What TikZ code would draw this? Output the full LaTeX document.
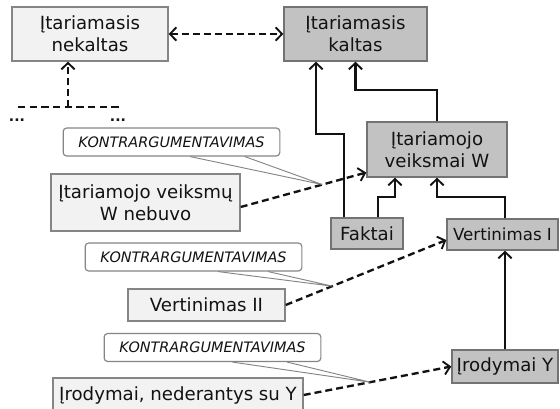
\documentclass[tikz,border=0pt]{standalone}
\usepackage{fontspec}
\setmainfont{DejaVu Sans}
\usetikzlibrary{arrows.meta,positioning,calc}
\definecolor{boxlight}{HTML}{F2F2F2}
\definecolor{boxdark}{HTML}{C2C2C2}
\definecolor{boxline}{HTML}{858585}
\definecolor{ink}{HTML}{121212}

\begin{document}
\begin{tikzpicture}[
  x=0.3mm,y=-0.3mm,
  >={Straight Barb[length=1.9mm,width=4mm,line width=1.6pt]},
  lbox/.style={draw=boxline, fill=boxlight, line width=1.2pt, align=center, inner sep=0pt, text=ink, font=\fontsize{15.5}{18.5}\selectfont},
  gbox/.style={lbox, fill=boxdark, draw=black!55},
  note/.style={draw=boxline, fill=white, rounded corners=3pt, line width=1pt, inner sep=0pt, minimum width=65mm, minimum height=8.4mm, text=ink, font=\fontsize{12.3}{13}\selectfont\itshape},
  tail/.style={draw=boxline, line width=0.8pt},
  arr/.style={->, line width=2pt, draw=ink},
  darr/.style={arr, dash pattern=on 2.1mm off 1.2mm},
  dline/.style={line width=2pt, draw=ink, dash pattern=on 2.2mm off 1.3mm},
  dots/.style={inner sep=0pt, text=ink, font=\fontsize{12}{12}\selectfont\bfseries}
]
\useasboundingbox (0,0) rectangle (560,409);

% top row
\node[lbox, minimum width=46.8mm, minimum height=16.2mm] (nek) at (90,34) {Įtariamasis\\nekaltas};
\node[gbox, minimum width=42.9mm, minimum height=16.2mm] (kal) at (355.5,34) {Įtariamasis\\kaltas};
\node[gbox, minimum width=42mm, minimum height=16.5mm] (veik) at (437,149.5) {Įtariamojo\\veiksmai W};
\node[gbox, minimum width=21.6mm, minimum height=9.3mm] (faktai) at (367,233.5) {Faktai};
\node[gbox, minimum width=33.3mm, minimum height=9.3mm, font=\fontsize{14.2}{17}\selectfont] (vertI) at (502.5,234.5) {Vertinimas I};
\node[gbox, minimum width=31.8mm, minimum height=9.9mm] (irodY) at (505,366.5) {Įrodymai Y};

% counter side
\node[lbox, minimum width=56.7mm, minimum height=17.1mm] (nebuvo) at (145.5,202.5) {Įtariamojo veiksmų\\W nebuvo};
\node[lbox, minimum width=47.1mm, minimum height=9.6mm] (vertII) at (206.5,305) {Vertinimas II};
\node[lbox, minimum width=75mm, minimum height=10.2mm] (neder) at (178,395) {Įrodymai, nederantys su Y};

\node[note] (ctr1) at (171.5,142) {KONTRARGUMENTAVIMAS};
\node[note] (ctr2) at (193.5,257) {KONTRARGUMENTAVIMAS};
\node[note] (ctr3) at (212.5,347.5) {KONTRARGUMENTAVIMAS};

% unfinished branch under the first box
\coordinate (brl) at (18,107);
\coordinate (brr) at (121,107);
\coordinate (brm) at (68,107);
\node[dots] (dotsl) at (17,120) {...};
\node[dots] (dotsr) at (118,120) {...};
\draw[dline] (brl) -- (brr);
\draw[darr] (brm) -- (brm |- nek.south);
\draw[darr, <->] (nek.east) -- (kal.west);

% support
\draw[arr] ([xshift=-6.9mm]faktai.north) -- ++(0,-83) -| ([xshift=-11.85mm]kal.south);
\draw[arr] ([xshift=3.3mm]faktai.north) -- ++(0,-20) -| ([xshift=-12.6mm]veik.south);
\draw[arr] (veik.north) -- ++(0,-31) -| (kal.south);
\draw[arr] ([xshift=0.75mm]vertI.north) -- ++(0,-21) -| (veik.south);
\draw[arr] (irodY.north) -- (irodY.north |- vertI.south);

% attacks
\draw[darr] ([yshift=-1.35mm]nebuvo.east) -- coordinate[pos=0.65] (tip1) ([yshift=-6.9mm]veik.west);
\draw[darr] (vertII.east) -- coordinate[pos=0.29] (tip2) ([yshift=-1.65mm]vertI.west);
\draw[darr] (neder.east) -- coordinate[pos=0.45] (tip3) (irodY.west);
\draw[tail] ([xshift=5.6mm]ctr1.south) -- (tip1) -- ([xshift=22mm]ctr1.south);
\draw[tail] ([xshift=7.4mm]ctr2.south) -- (tip2) -- ([xshift=22.4mm]ctr2.south);
\draw[tail] ([xshift=6mm]ctr3.south) -- (tip3) -- ([xshift=22.4mm]ctr3.south);
\end{tikzpicture}
\end{document}
